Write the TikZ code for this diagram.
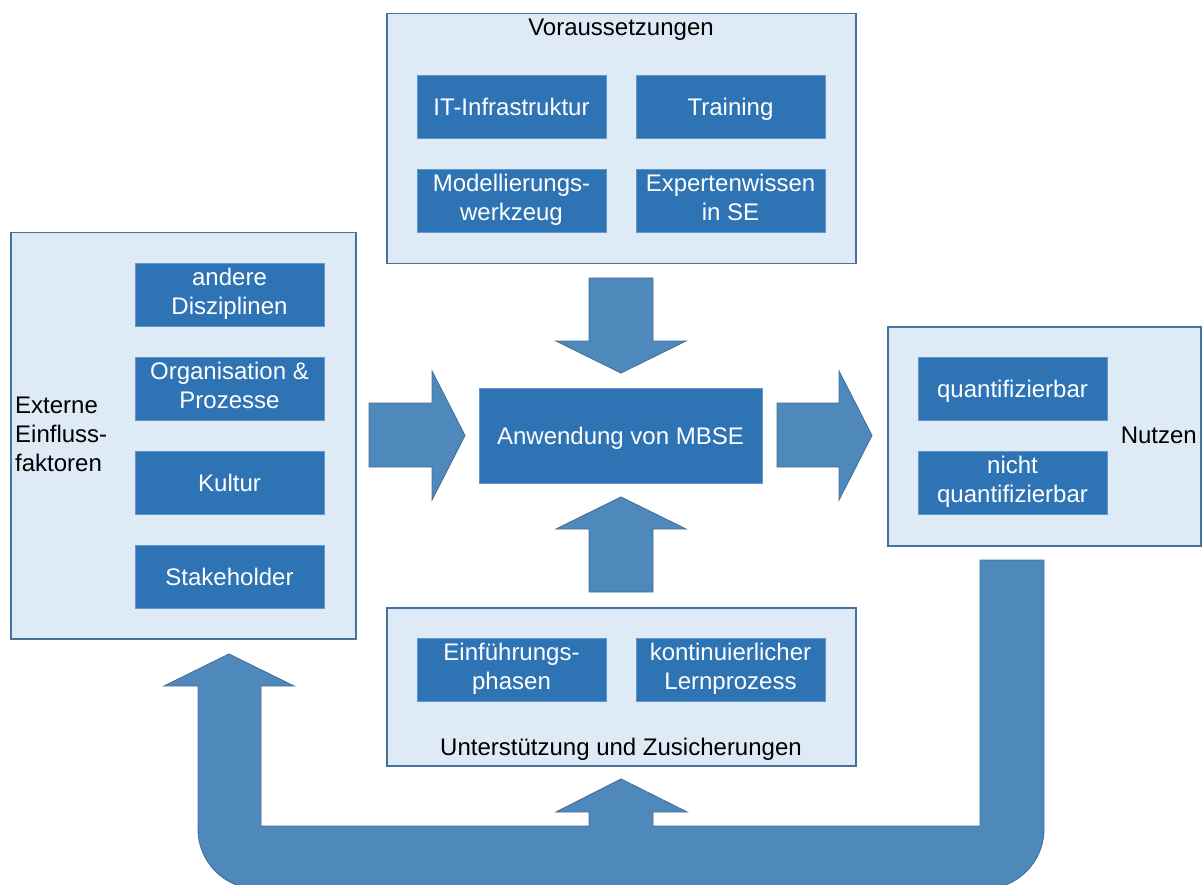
\documentclass[tikz,border=0pt]{standalone}
\usepackage{fontspec}
\setmainfont{Liberation Sans}
\definecolor{arrowfill}{RGB}{79,136,187}
\definecolor{arrowline}{RGB}{65,113,156}
\definecolor{boxfill}{RGB}{46,116,181}
\definecolor{panelfill}{RGB}{222,235,247}
\definecolor{panelline}{RGB}{70,114,160}
% invisible line strut, so that one- and two-line labels centre alike
\newcommand\linestrut{\rule[-5.7pt]{0pt}{29pt}}
\begin{document}
\begin{tikzpicture}[x=1pt,y=-1pt,
  font=\fontsize{24}{29}\selectfont,
  every node/.append style={execute at begin node=\linestrut, execute at end node=\linestrut},
  panel/.style={draw=panelline, line width=1.5pt, fill=panelfill, anchor=north west, inner sep=0pt},
  item/.style={fill=boxfill, draw=boxfill!75!white, line width=0.6pt, text=white, align=center,
    minimum width=189pt, minimum height=63pt, inner sep=0pt},
  blockarrow/.style={fill=arrowfill, draw=arrowline, line width=0.9pt, line join=miter},
  caption/.style={text=black, inner sep=0pt}]
\path[use as bounding box] (0,0) rectangle (1202,885);

% feedback arrow from the benefits back to the external factors
\path[blockarrow] (980,560) -- (1044,560) -- (1044,829) arc (0:90:60) -- (258,889)
  arc (90:180:60) -- (198,686) -- (164,686) -- (229,654) -- (294,686) -- (261,686)
  -- (261,826) -- (589,826) -- (589,812) -- (556,812) -- (621,779) -- (687,812)
  -- (653,812) -- (653,826) -- (980,826) -- cycle;

% panels
\node[panel, minimum width=469pt, minimum height=250pt] (pre) at (386,13) {};
\node[panel, minimum width=469pt, minimum height=158pt] (sup) at (386,607) {};
\node[panel, minimum width=345pt, minimum height=406pt] (ext) at (10,232) {};
\node[panel, minimum width=313pt, minimum height=219pt] (ben) at (887,326) {};

\node[caption] (preT) at (621,27) {Voraussetzungen};
\node[caption] (supT) at (621,747) {Unterstützung und Zusicherungen};
\node[caption, anchor=west, align=left] (extT) at (15,437) {Externe\\Einfluss-\\faktoren};
\node[caption, anchor=east] (benT) at (1197,435) {Nutzen};

% prerequisites
\node[item] (it) at (511.5,106.5) {IT-Infrastruktur};
\node[item] (tr) at (730.5,106.5) {Training};
\node[item] (mw) at (511.5,200.5) {Modellierungs-\\werkzeug};
\node[item] (ex) at (730.5,200.5) {Expertenwissen\\in SE};

% support
\node[item] (ein) at (511.5,669.5) {Einführungs-\\phasen};
\node[item] (lern) at (730.5,669.5) {kontinuierlicher\\Lernprozess};

% external factors
\node[item] (dis) at (229.5,294.5) {andere\\Disziplinen};
\node[item] (org) at (229.5,388.5) {Organisation \&\\Prozesse};
\node[item] (kul) at (229.5,482.5) {Kultur};
\node[item] (stk) at (229.5,576.5) {Stakeholder};

% benefits
\node[item] (qn) at (1012.5,388.5) {quantifizierbar};
\node[item] (nq) at (1012.5,482.5) {nicht\\quantifizierbar};

% central node
\node[item, minimum width=283pt, minimum height=95pt] (mbse) at (620.5,435.5) {Anwendung von MBSE};

% block arrows around the central node
\path[blockarrow] (589,278) -- (653,278) -- (653,341) -- (686,341) -- (621,373)
  -- (556,341) -- (589,341) -- cycle;
\path[blockarrow] (589,592) -- (653,592) -- (653,529) -- (686,529) -- (621,497)
  -- (556,529) -- (589,529) -- cycle;
\path[blockarrow] (369,403) -- (432,403) -- (432,371) -- (465,435.5) -- (432,500)
  -- (432,467) -- (369,467) -- cycle;
\path[blockarrow] (777,403) -- (839,403) -- (839,371) -- (872,435.5) -- (839,500)
  -- (839,467) -- (777,467) -- cycle;
\end{tikzpicture}
\end{document}
